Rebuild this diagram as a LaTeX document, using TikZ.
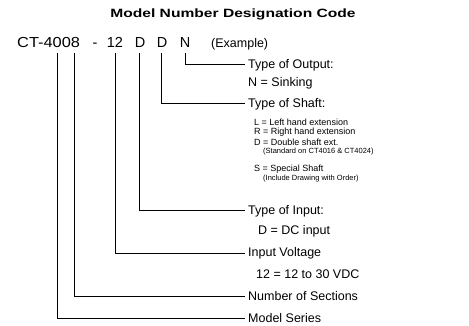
\documentclass[tikz,border=0pt]{standalone}
\usepackage{fontspec}
\usepackage{graphicx}
\setmainfont{Liberation Sans}
\begin{document}
\begin{tikzpicture}[x=1pt,y=-1pt,
  lbl/.style={anchor=west, inner sep=0pt, font=\fontsize{12.5}{14}\selectfont},
  sub/.style={anchor=west, inner sep=0pt, font=\fontsize{9}{10}\selectfont},
  note/.style={anchor=west, inner sep=0pt, font=\fontsize{7.5}{8}\selectfont},
  code/.style={inner sep=0pt, anchor=base, font=\fontsize{14.5}{16}\selectfont},
  lead/.style={line width=1pt}]
\useasboundingbox (0,0) rectangle (469,326);
\node[inner sep=0pt, font=\bfseries\fontsize{12}{14}\selectfont] (title) at (233,14) {\scalebox{1.3}[1]{Model Number Designation Code}};
\node[code, anchor=base west] (ct) at (17,48) {\scalebox{1.13}[1]{CT-4008}};
\node[code] (dash) at (95,48) {-};
\node[code] (n12) at (115,48) {12};
\node[code] (d1) at (140,48) {D};
\node[code] (d2) at (162,48) {D};
\node[code] (nn) at (185,48) {N};
\node[lbl, anchor=base west] (ex) at (211,47.5) {(Example)};
\node[lbl] (out) at (248,65) {Type of Output:};
\node[lbl] (sink) at (248,83) {N = Sinking};
\node[lbl] (shaft) at (248,104) {Type of Shaft:};
\node[sub] (l) at (254,122) {L = Left hand extension};
\node[sub] (r) at (254,132) {R = Right hand extension};
\node[sub] (d) at (254,142) {D = Double shaft ext.};
\node[note] (std) at (263,152) {(Standard on CT4016 \& CT4024)};
\node[sub] (s) at (254,169) {S = Special Shaft};
\node[note] (inc) at (263,179) {(Include Drawing with Order)};
\node[lbl] (inp) at (248,211) {Type of Input:};
\node[lbl] (dc) at (258,231) {D = DC input};
\node[lbl] (volt) at (248,253) {Input Voltage};
\node[lbl] (vdc) at (256,274) {12 = 12 to 30 VDC};
\node[lbl] (sec) at (248,296) {Number of Sections};
\node[lbl] (ser) at (248,318) {Model Series};
\coordinate (tN) at (185,53);
\coordinate (tD2) at (161,53);
\coordinate (tD1) at (139,53);
\coordinate (t12) at (115,53);
\coordinate (tS) at (74,53);
\coordinate (tM) at (57,53);
\draw[lead] (tN) |- ([xshift=-3pt]out.west);
\draw[lead] (tD2) |- ([xshift=-3pt]shaft.west);
\draw[lead] (tD1) |- ([xshift=-3pt]inp.west);
\draw[lead] (t12) |- ([xshift=-3pt]volt.west);
\draw[lead] (tS) |- ([xshift=-3pt]sec.west);
\draw[lead] (tM) |- ([xshift=-3pt]ser.west);
\end{tikzpicture}
\end{document}
